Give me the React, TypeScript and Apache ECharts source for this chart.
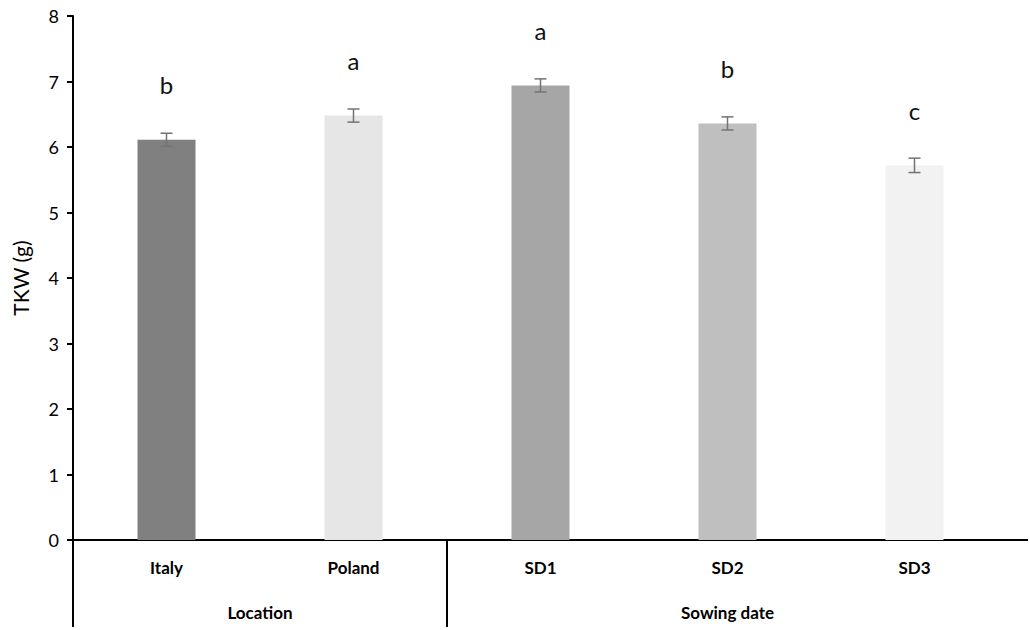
import React, { useEffect, useRef } from "react";
import * as echarts from "echarts";

const categories = ["Italy", "Poland", "SD1", "SD2", "SD3"];
const values = [6.11, 6.48, 6.94, 6.36, 5.72];
const errors = [0.1, 0.1, 0.1, 0.1, 0.11];
const letters = ["b", "a", "a", "b", "c"];
const barColors = ["#808080", "#e6e6e6", "#a6a6a6", "#bfbfbf", "#f2f2f2"];
const groupSlots = ["", "", "Location", "", "", "", "", "Sowing date", "", "", ""];
const yTicks = { min: 0, max: 8, interval: 1 };
const FONT = "Lato, 'Open Sans', sans-serif";

export default function App() {
  const ref = useRef<HTMLDivElement>(null);
  useEffect(() => {
    if (!ref.current) return;
    const chart = echarts.init(ref.current, null, { renderer: "svg" });
    const option: any = {
      animation: false,
      backgroundColor: "#ffffff",
      textStyle: { fontFamily: FONT },
      grid: { left: 73, right: 22, top: 16, bottom: 90, containLabel: false },
      xAxis: [
        {
          type: "category",
          data: categories,
          position: "bottom",
          axisLine: { show: true, onZero: false, lineStyle: { color: "#000", width: 2 } },
          axisTick: { show: false },
          axisLabel: { color: "#000", fontSize: 17, fontWeight: "bold", margin: 19, fontFamily: FONT },
          splitLine: { show: false },
        },
        {
          type: "category",
          data: groupSlots,
          position: "bottom",
          boundaryGap: false,
          axisLine: { show: false },
          axisTick: { show: false },
          axisLabel: { color: "#000", fontSize: 17, fontWeight: "bold", margin: 64, interval: 0, fontFamily: FONT },
          splitLine: { show: false },
        },
      ],
      yAxis: {
        type: "value",
        min: yTicks.min,
        max: yTicks.max,
        interval: yTicks.interval,
        name: "TKW (g)",
        nameLocation: "middle",
        nameGap: 42,
        nameTextStyle: { color: "#000", fontSize: 21, fontFamily: FONT },
        axisLine: { show: true, lineStyle: { color: "#000", width: 2 } },
        axisTick: { show: true, inside: false, length: 6, lineStyle: { color: "#000", width: 2 } },
        axisLabel: { color: "#000", fontSize: 18, margin: 14, fontFamily: FONT },
        splitLine: { show: false },
      },
      series: [
        {
          type: "bar",
          xAxisIndex: 0,
          barWidth: 58,
          data: values.map((v, i) => ({ value: v, itemStyle: { color: barColors[i] } })),
          label: {
            show: true,
            position: "top",
            distance: 43,
            formatter: (p: any) => letters[p.dataIndex],
            color: "#111",
            fontSize: 24,
            fontFamily: FONT,
          },
          z: 2,
        },
        {
          type: "custom",
          xAxisIndex: 0,
          data: values.map((v, i) => [i, v - errors[i], v + errors[i]]),
          renderItem: (params: any, api: any) => {
            const x = api.value(0);
            const lo = api.coord([x, api.value(1)]);
            const hi = api.coord([x, api.value(2)]);
            const cap = 6;
            const style = { stroke: "#737373", lineWidth: 1.5 };
            return {
              type: "group",
              children: [
                { type: "line", shape: { x1: lo[0], y1: lo[1], x2: hi[0], y2: hi[1] }, style },
                { type: "line", shape: { x1: lo[0] - cap, y1: lo[1], x2: lo[0] + cap, y2: lo[1] }, style },
                { type: "line", shape: { x1: hi[0] - cap, y1: hi[1], x2: hi[0] + cap, y2: hi[1] }, style },
              ],
            };
          },
          z: 3,
        },
      ],
    };
    chart.setOption(option);
    const base = chart.convertToPixel({ yAxisIndex: 0 }, 0) as number;
    const c1 = chart.convertToPixel({ xAxisIndex: 0 }, "Poland") as number;
    const c2 = chart.convertToPixel({ xAxisIndex: 0 }, "SD1") as number;
    const c0 = chart.convertToPixel({ xAxisIndex: 0 }, "Italy") as number;
    const step = c1 - c0;
    const leftEdge = c0 - step / 2;
    const sep = (c1 + c2) / 2;
    const lineStyle = { stroke: "#000", lineWidth: 2 };
    chart.setOption({
      graphic: [
        { type: "line", shape: { x1: leftEdge, y1: base, x2: leftEdge, y2: 627 }, style: lineStyle },
        { type: "line", shape: { x1: sep, y1: base, x2: sep, y2: 627 }, style: lineStyle },
        { type: "line", shape: { x1: 1000, y1: base, x2: 1028, y2: base }, style: lineStyle },
      ],
    });
    return () => chart.dispose();
  }, []);
  return <div ref={ref} style={{ position: "fixed", left: 0, top: 0, width: 1030, height: 630, background: "#fff" }} />;
}
